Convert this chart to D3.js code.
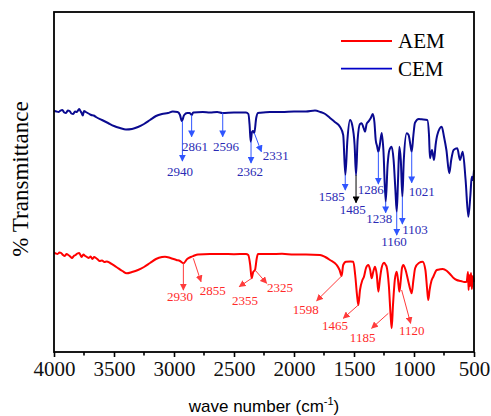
<!DOCTYPE html>
<html>
<head>
<meta charset="utf-8">
<script src="https://cdn.jsdelivr.net/npm/d3@7"></script>
<style>
  html, body { margin: 0; padding: 0; background: #fff; }
  svg { display: block; }
</style>
</head>
<body>
<svg id="chart" width="491" height="416"></svg>
<script>
// ---------- DATA ----------
const seriesNames = ["AEM", "CEM"];
const xTicks = [4000, 3500, 3000, 2500, 2000, 1500, 1000, 500];

// CEM spectrum: [wave number, transmittance (arb. units)]
const cemData = [
  [4000,241.3],[3980,240.5],[3960,240],[3945,241.5],[3930,242],[3915,239.5],[3900,239],[3885,241.5],
  [3870,241],[3855,238.5],[3840,238],[3825,240.5],[3810,240],[3790,243],[3780,241],
  [3770,239],[3760,236.5],[3750,241],[3735,240],[3720,239],[3705,238],[3690,237],[3670,236.5],[3650,235],[3600,232],[3550,229],[3500,226],
  [3450,224],[3400,222.5],[3350,223],[3300,225],[3250,228],[3200,232],[3150,236],[3100,238],
  [3050,239],[3010,240.5],[2970,240],[2950,237],[2935,231],[2915,237],[2890,239],[2870,239],
  [2853,237],[2840,239.5],[2760,240],[2700,239.5],[2640,240],[2596,239],[2500,239.5],[2400,239.5],
  [2380,238],[2370,227],[2361,210.3],[2350,220],[2340,221],[2331,219],[2315,234],[2300,239],
  [2280,239.3],[2200,240],[2100,240],[2000,240.5],[1900,240.5],[1825,241.5],[1780,240],[1740,238],
  [1700,234],[1660,230],[1617,225.3],[1590,217],[1572,177],[1555,212],[1533,232],[1515,227],
  [1495,207],[1483,177],[1470,212],[1450,228],[1436,228.7],[1420,224],[1408,220.3],[1395,228],
  [1381,230.3],[1360,234],[1344,238],[1330,230],[1319,212],[1308,206],[1297,200.3],[1285,207],
  [1269,219],[1255,202],[1236,150.3],[1220,187],[1205,202],[1186,205.3],[1170,192],[1155,162],
  [1144,140.3],[1133,172],[1122,205.3],[1110,192],[1097,155.3],[1085,192],[1061,218.7],[1045,217],
  [1030,207],[1019,200.3],[1005,217],[992,229.3],[960,233],[936,232.7],[889,232],[875,217],
  [867,193.7],[850,202],[833,192],[820,207],[806,217],[769,225.3],[750,215.3],[730,202],
  [706,178.7],[690,192],[670,202],[639,203.7],[617,192],[594,200.3],[570,172],[547,135.3],
  [530,157],[519,175.3],[510,172],[500,182]
];

// AEM spectrum: [wave number, transmittance (arb. units)]
const aemData = [
  [4000,99.3],[3985,98.5],[3970,98],[3955,99.5],[3940,99],[3925,97],[3910,96],[3895,98],[3880,97],[3865,95.5],[3850,94],[3835,96],[3820,97],[3805,98.5],[3790,99],
  [3780,97],[3770,95],[3755,97.5],[3740,96],[3725,95],[3710,94],[3695,95.5],[3680,93],[3665,95],[3650,94],[3635,92.5],[3620,91],[3600,91.5],[3580,90],[3560,90.5],[3533,89],
  [3480,85],[3430,81],[3394,78.7],[3350,80],[3300,82],[3250,85],[3200,89],[3150,93],
  [3100,95],[3075,95.3],[3030,94],[2980,92],[2950,91],[2922,88.7],[2890,93],[2860,95],
  [2839,96],[2800,97.5],[2700,98],[2600,98],[2500,97.8],[2400,98],[2381,97],[2365,87],
  [2353,73.7],[2340,80],[2325,82],[2310,94],[2300,98],[2200,98],[2100,98.2],[2000,97.5],
  [1900,97.5],[1783,97],[1740,95],[1700,92],[1644,87],[1620,82],[1603,76],[1590,87],
  [1567,90.3],[1530,90.5],[1506,90.3],[1490,77],[1475,57],[1464,47],[1450,62],[1430,72],
  [1417,75.3],[1400,84],[1381,87],[1365,82],[1353,73.7],[1340,80],[1325,85.3],[1310,77],
  [1297,60.3],[1285,72],[1270,84],[1250,89.3],[1235,87],[1228,85.3],[1210,67],[1195,37],
  [1186,23.7],[1175,47],[1160,72],[1144,80.3],[1133,72],[1122,60.3],[1110,72],[1100,84],
  [1089,87],[1070,82],[1050,72],[1030,62],[1019,58.7],[1005,72],[990,84],[960,89],
  [928,90.3],[905,82],[890,62],[881,52],[870,62],[855,71],[839,75.3],[810,82],
  [783,82.7],[760,83],[728,81.3],[700,78],[670,74],[644,72],[610,71],[580,70],
  [561,70.3],[550,80],[545,62],[540,77],[533,66],[525,79],[518,63],[510,76],[500,70]
];

// Peak annotations: label, arrow start [wn,T], arrow end [wn,T], label centre [wn,T]
const cemPeaks = [
  {label:"2940", from:[2930,231],  to:[2930,191],  at:[2950,181]},
  {label:"2861", from:[2853,237],  to:[2853,215.3],at:[2825,205.3]},
  {label:"2596", from:[2594,239.5],to:[2594,215.3],at:[2567,205.3]},
  {label:"2362", from:[2358,210.3],to:[2358,189],  at:[2367,180.3]},
  {label:"2331", from:[2331,219],  to:[2272,200.3],at:[2153,197]},
  {label:"1585", from:[1573,177],  to:[1573,162],  at:[1686,156]},
  {label:"1485", from:[1483,177],  to:[1483,149.3],at:[1511,142.7], dark:true},
  {label:"1286", from:[1297,200.3],to:[1297,168],  at:[1361,162.7]},
  {label:"1238", from:[1236,150.3],to:[1236,139.3],at:[1289,133.7]},
  {label:"1160", from:[1144,140.3],to:[1144,117],  at:[1167,110.3]},
  {label:"1103", from:[1097,155.3],to:[1097,128],  at:[992,122.7]},
  {label:"1021", from:[1019,200.3],to:[1019,169.3],at:[936,161]}
];
const aemPeaks = [
  {label:"2930", from:[2922,88.7], to:[2922,62],   at:[2950,55.3]},
  {label:"2855", from:[2839,93.7], to:[2775,70.3], at:[2678,61.3]},
  {label:"2355", from:[2353,73.7], to:[2456,65.3], at:[2408,52]},
  {label:"2325", from:[2325,82],   to:[2228,68.7], at:[2117,64.7]},
  {label:"1598", from:[1603,76],   to:[1811,51.3], at:[1903,42.7]},
  {label:"1465", from:[1464,47],   to:[1589,33.7], at:[1658,26.3]},
  {label:"1185", from:[1214,38.7], to:[1353,23.7], at:[1428,14.7]},
  {label:"1120", from:[1103,62],   to:[1028,28.7], at:[1019,22]}
];

// ---------- LAYOUT ----------
const svg = d3.select("#chart");
const margin = {left: 54, top: 12, right: 17, bottom: 64};
const W = 491, H = 416;
const x0 = margin.left, x1 = W - margin.right;   // 54 .. 474
const y0 = H - margin.bottom, y1 = margin.top;   // 352 .. 12

const x = d3.scaleLinear().domain([4000, 500]).range([x0, x1]);
const y = d3.scaleLinear().domain([0, 340]).range([y0, y1]);

const colors = {AEM: "#ff0000", CEM: "#0a0a90"};
const legendColors = {AEM: "#ff0000", CEM: "#0000c8"};
const annot = {
  CEM: {arrow: "#2f55ff", text: "#2a2ab4"},
  AEM: {arrow: "#ff3b3b", text: "#ff2a2a"}
};

// arrow markers
const defs = svg.append("defs");
function marker(id, color) {
  defs.append("marker")
    .attr("id", id).attr("viewBox", "0 0 10 10")
    .attr("refX", 9).attr("refY", 5)
    .attr("markerWidth", 7).attr("markerHeight", 7)
    .attr("markerUnits", "userSpaceOnUse")
    .attr("orient", "auto")
    .append("path").attr("d", "M0,0 L10,5 L0,10 Z").attr("fill", color);
}
marker("arrBlue", annot.CEM.arrow);
marker("arrRed", annot.AEM.arrow);
marker("arrBlack", "#000");

// lines
const line = d3.line().x(d => x(d[0])).y(d => y(d[1])).curve(d3.curveMonotoneX);
svg.append("path").datum(aemData).attr("d", line)
  .attr("fill", "none").attr("stroke", colors.AEM).attr("stroke-width", 2).attr("stroke-linejoin", "round");
svg.append("path").datum(cemData).attr("d", line)
  .attr("fill", "none").attr("stroke", colors.CEM).attr("stroke-width", 2).attr("stroke-linejoin", "round");

// annotations
function drawPeaks(peaks, key) {
  const g = svg.append("g");
  peaks.forEach(p => {
    const col = p.dark ? "#000" : annot[key].arrow;
    const mk = p.dark ? "arrBlack" : (key === "CEM" ? "arrBlue" : "arrRed");
    g.append("line")
      .attr("x1", x(p.from[0])).attr("y1", y(p.from[1]))
      .attr("x2", x(p.to[0])).attr("y2", y(p.to[1]))
      .attr("stroke", col).attr("stroke-width", 1)
      .attr("marker-end", `url(#${mk})`);
    g.append("text")
      .attr("x", x(p.at[0])).attr("y", y(p.at[1]))
      .attr("dy", "0.35em").attr("text-anchor", "middle")
      .attr("font-family", "'Liberation Serif', 'Times New Roman', serif")
      .attr("font-size", 13).attr("fill", annot[key].text)
      .text(p.label);
  });
}
drawPeaks(cemPeaks, "CEM");
drawPeaks(aemPeaks, "AEM");

// x axis
const xAxis = d3.axisBottom(x).tickValues(xTicks).tickSize(5).tickPadding(4).tickFormat(d3.format("d"));
const gx = svg.append("g").attr("transform", `translate(0,${y0})`).call(xAxis);
gx.select(".domain").remove();
gx.selectAll(".tick line").attr("stroke", "#000").attr("stroke-width", 1.6);
gx.selectAll(".tick text")
  .attr("font-family", "'Liberation Serif', 'Times New Roman', serif")
  .attr("font-size", 21).attr("fill", "#111");
// minor ticks
const minor = d3.range(3750, 500, -500);
svg.append("g").selectAll("line").data(minor).join("line")
  .attr("x1", d => x(d)).attr("x2", d => x(d))
  .attr("y1", y0).attr("y2", y0 + 3.5)
  .attr("stroke", "#000").attr("stroke-width", 1.6);

// frame
svg.append("rect").attr("x", x0).attr("y", y1)
  .attr("width", x1 - x0).attr("height", y0 - y1)
  .attr("fill", "none").attr("stroke", "#000").attr("stroke-width", 1.8);

// axis titles
const xt = svg.append("text")
  .attr("x", (x0 + x1) / 2 + 0).attr("y", 412)
  .attr("text-anchor", "middle")
  .attr("font-family", "'Liberation Sans', Arial, sans-serif")
  .attr("font-size", 17).attr("fill", "#000");
xt.append("tspan").text("wave number (cm");
xt.append("tspan").attr("font-size", 11).attr("dy", -7).text("-1");
xt.append("tspan").attr("dy", 7).text(")");

svg.append("text")
  .attr("transform", `translate(28,179) rotate(-90)`)
  .attr("text-anchor", "middle")
  .attr("font-family", "'Liberation Serif', 'Times New Roman', serif")
  .attr("font-size", 23).attr("fill", "#000")
  .text("% Transmittance");

// legend
const legY = [41, 68.7];
seriesNames.forEach((s, i) => {
  svg.append("line").attr("x1", 341).attr("x2", 392)
    .attr("y1", legY[i]).attr("y2", legY[i])
    .attr("stroke", legendColors[s]).attr("stroke-width", 1.8);
  svg.append("text").attr("x", 398).attr("y", legY[i] + 7.3)
    .attr("font-family", "'Liberation Serif', 'Times New Roman', serif")
    .attr("font-size", 21).attr("fill", "#000").text(s);
});
</script>
</body>
</html>
